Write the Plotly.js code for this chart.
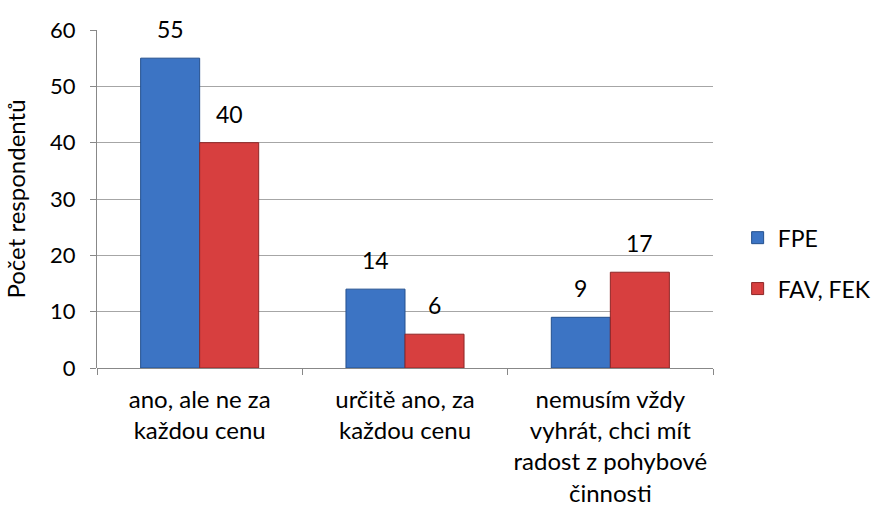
<!DOCTYPE html>
<html>
<head>
<meta charset="utf-8">
<script src="https://cdn.plot.ly/plotly-3.0.1.min.js"></script>
<style>html,body{margin:0;padding:0;background:#fff;}#chart{width:873px;height:506px;}</style>
</head>
<body>
<div id="chart"></div>
<script>
const categories = [
  "ano, ale ne za<br>každou cenu",
  "určitě ano, za<br>každou cenu",
  "nemusím vždy<br>vyhrát, chci mít<br>radost z pohybové<br>činnosti"
];
const seriesNames = ["FPE", "FAV, FEK"];
const fpe = [55, 14, 9];
const favFek = [40, 6, 17];
const yTicks = [0, 10, 20, 30, 40, 50, 60];

const FONT = "Lato, 'Open Sans', sans-serif";
const FS = 22;
const series = [fpe, favFek];
const colors = ["#3C74C4", "#D73F3F"];
const edges = ["#24508E", "#8E2626"];

const traces = series.map((vals, i) => ({
  type: "bar",
  name: seriesNames[i],
  x: categories,
  y: vals,
  legendgroup: "g" + i,
  marker: {color: colors[i], line: {color: edges[i], width: 1}},
  hoverinfo: "none"
}));

const annotations = [];
series.forEach((vals, i) => {
  vals.forEach((v, j) => {
    annotations.push({
      x: categories[j], y: v, xref: "x", yref: "y",
      text: String(v), showarrow: false,
      xshift: (i === 0 ? -29.5 : 29.5), yshift: 13,
      yanchor: "bottom",
      font: {family: FONT, size: 23, color: "#000"}
    });
  });
});

const layout = {
  width: 873, height: 506,
  margin: {l: 97, r: 160, t: 30, b: 138, autoexpand: false},
  paper_bgcolor: "#fff", plot_bgcolor: "#fff",
  barmode: "group", bargap: 0.425, bargroupgap: 0,
  font: {family: FONT, size: FS, color: "#000"},
  showlegend: true,
  legend: {
    x: 1.04, xanchor: "left", y: 0.31, yanchor: "middle",
    traceorder: "grouped", tracegroupgap: 18,
    font: {family: FONT, size: 23, color: "#000"},
    itemwidth: 30
  },
  xaxis: {
    type: "category",
    tickson: "boundaries",
    ticks: "outside", ticklen: 6, tickcolor: "#888",
    ticklabelstandoff: 15,
    showline: false, showgrid: false, zeroline: false,
    tickfont: {family: FONT, size: 24, color: "#000"},
    fixedrange: true
  },
  yaxis: {
    range: [0, 60],
    tickvals: yTicks,
    ticks: "outside", ticklen: 6, tickcolor: "#888",
    ticklabelstandoff: 10,
    showline: true, linecolor: "#888", linewidth: 1,
    showgrid: true, gridcolor: "#A6A6A6", gridwidth: 1,
    zeroline: true, zerolinecolor: "#888", zerolinewidth: 1,
    tickfont: {family: FONT, size: FS, color: "#000"},
    title: {text: "Počet respondentů", font: {family: FONT, size: 24, color: "#000"}, standoff: 17},
    fixedrange: true
  },
  annotations: annotations
};

Plotly.newPlot("chart", traces, layout, {displayModeBar: false, staticPlot: true});
</script>
</body>
</html>
